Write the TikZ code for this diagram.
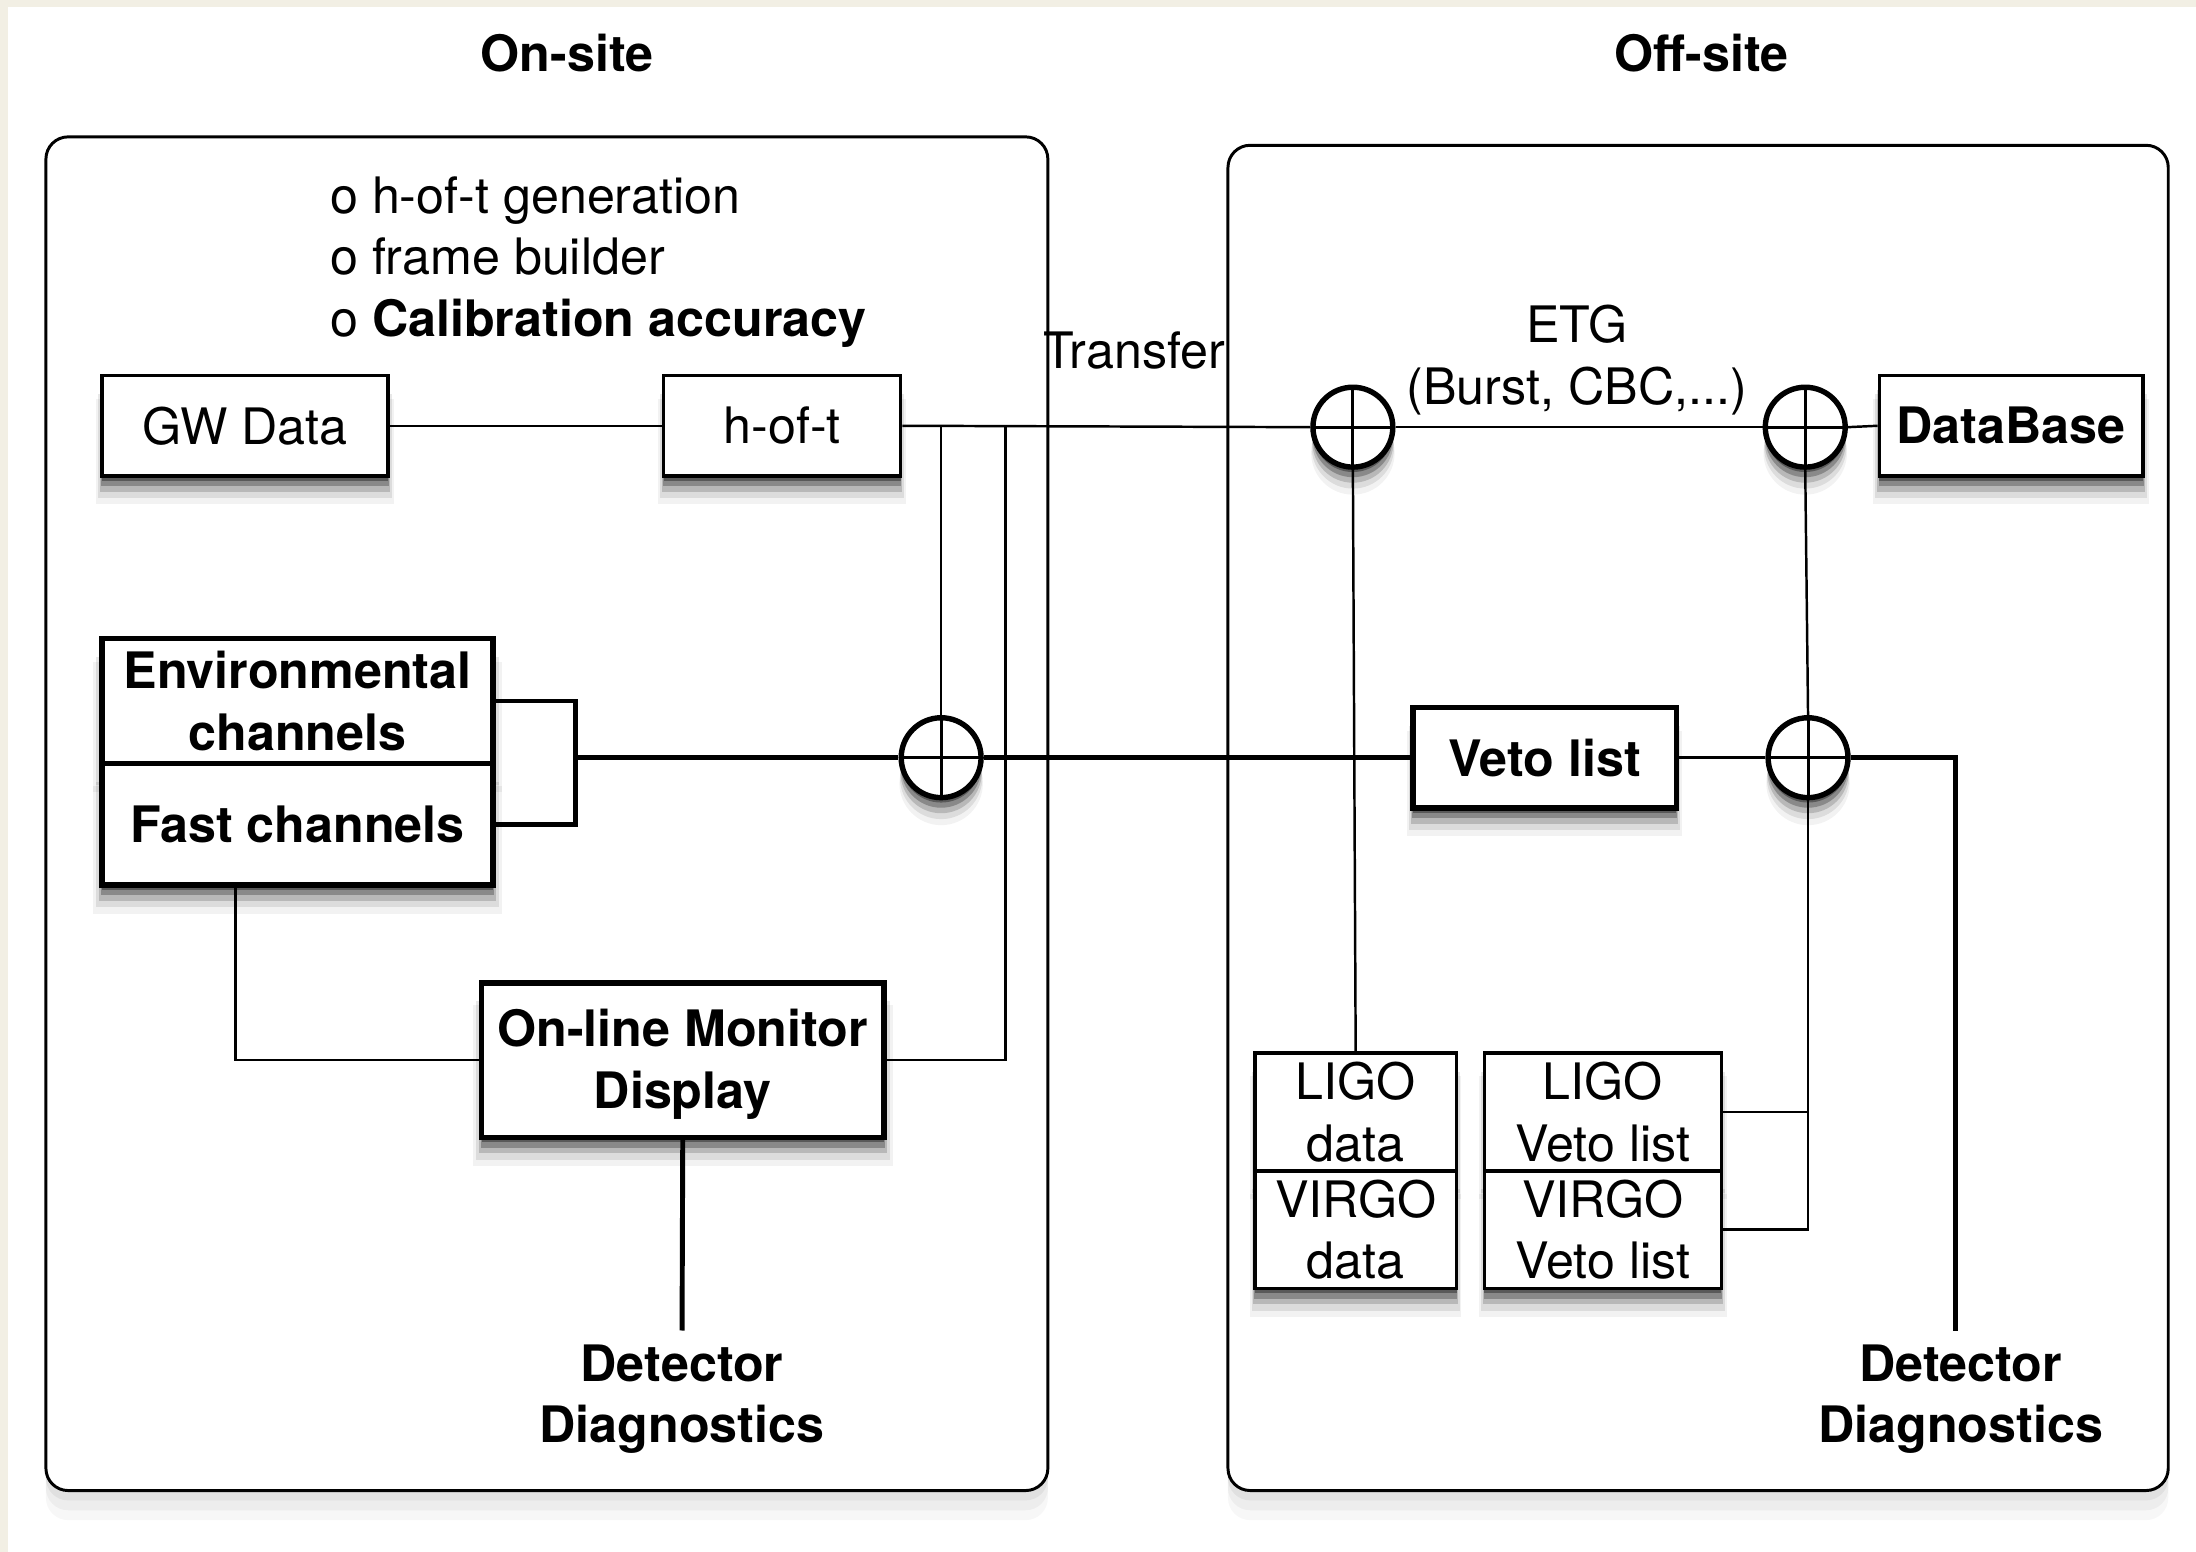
\documentclass[tikz,border=0pt]{standalone}
\usepackage{fontspec}
\setmainfont{TeX Gyre Heros}
\usetikzlibrary{shadows}
\definecolor{bgbeige}{HTML}{F2EFE4}
\begin{document}
\begin{tikzpicture}[x=0.01cm,y=-0.01cm,
  every node/.style={font=\fontsize{10.2}{12.5}\selectfont},
  sh/.style={drop shadow={shadow xshift=0pt,shadow yshift=-1pt,opacity=.35,fill=black},
             drop shadow={shadow xshift=0pt,shadow yshift=-2pt,opacity=.25,fill=black,shadow scale=1.005},
             drop shadow={shadow xshift=0pt,shadow yshift=-3pt,opacity=.16,fill=black,shadow scale=1.015},
             drop shadow={shadow xshift=0pt,shadow yshift=-4pt,opacity=.09,fill=black,shadow scale=1.03},
             drop shadow={shadow xshift=0pt,shadow yshift=-5pt,opacity=.05,fill=black,shadow scale=1.045}},
  psh/.style={drop shadow={shadow xshift=0pt,shadow yshift=-2pt,opacity=.05,fill=black},
             drop shadow={shadow xshift=0pt,shadow yshift=-4pt,opacity=.04,fill=black},
             drop shadow={shadow xshift=0pt,shadow yshift=-6pt,opacity=.03,fill=black}},
  panel/.style={draw, line width=0.6pt, rounded corners=4.5pt, fill=white, psh, inner sep=0pt},
  tbox/.style={draw, line width=0.7pt, fill=white, inner sep=0pt, sh, align=center},
  kbox/.style={draw, line width=1.1pt, fill=white, inner sep=0pt, sh, align=center,
               font=\fontsize{10.2}{12.5}\selectfont\bfseries},
  oplus/.style={circle, draw, line width=1.1pt, fill=white, minimum size=0.57cm, inner sep=0pt, sh,
     path picture={\draw[line width=0.6pt] (path picture bounding box.north) -- (path picture bounding box.south)
        (path picture bounding box.west) -- (path picture bounding box.east);}},
  lnthin/.style={line width=0.5pt},
  lnthick/.style={line width=1.0pt},
  lbl/.style={align=center, font=\fontsize{10.2}{12.5}\selectfont\bfseries}
]
\useasboundingbox (0,0) rectangle (1568,1108);
\fill[bgbeige] (0,0) rectangle (1568,1108);
\fill[white] (6,5) rectangle (1568,1108);

% panels
\node[panel, minimum width=7.15cm, minimum height=9.66cm] (lp) at (390.5,581) {};
\node[panel, minimum width=6.71cm, minimum height=9.60cm] (rp) at (1212.5,584) {};

% titles and texts
\node[lbl] (ton) at (405,38) {On-site};
\node[lbl] (toff) at (1215,38) {Off-site};
\node[anchor=west, align=left, inner sep=0pt] (lst) at (235,187)
  {o h-of-t generation\\o frame builder\\o \textbf{Calibration accuracy}};
\node[inner sep=0pt] (tr) at (810,250) {Transfer};
\node[align=center, inner sep=0pt] (etg) at (1126,257) {ETG\\(Burst, CBC,...)};

% boxes
\node[tbox, minimum width=2.04cm, minimum height=0.72cm] (gw) at (175,304) {GW Data};
\node[tbox, minimum width=1.69cm, minimum height=0.72cm] (hoft) at (558.5,304) {h-of-t};
\node[tbox, minimum width=1.88cm, minimum height=0.72cm, font=\fontsize{10.2}{12.5}\selectfont\bfseries] (db) at (1436,304) {DataBase};
\node[kbox, minimum width=2.79cm, minimum height=0.89cm] (env) at (212.5,500.5) {Environmental\\channels};
\node[kbox, minimum width=2.79cm, minimum height=0.87cm] (fast) at (212.5,588.5) {Fast channels};
\node[kbox, minimum width=2.87cm, minimum height=1.10cm] (olm) at (487.5,757) {};
\node[lbl, inner sep=0pt] (olmt) at (487.5,760) {On-line Monitor\\Display};
\node[kbox, minimum width=1.88cm, minimum height=0.72cm] (veto) at (1103,541) {Veto list};
\node[tbox, minimum width=1.44cm, minimum height=0.84cm] (ligd) at (968,794) {LIGO\\data};
\node[tbox, minimum width=1.44cm, minimum height=0.84cm] (vird) at (968,878) {VIRGO\\data};
\node[tbox, minimum width=1.69cm, minimum height=0.84cm] (ligv) at (1144.5,794) {LIGO\\Veto list};
\node[tbox, minimum width=1.69cm, minimum height=0.84cm] (virv) at (1144.5,878) {VIRGO\\Veto list};

% combiners
\node[oplus] (c1) at (966,305) {};
\node[oplus] (c2) at (1289,305) {};
\node[oplus] (c3) at (672,541) {};
\node[oplus] (c4) at (1291,541) {};

% diagnostics labels
\node[lbl, inner sep=0pt] (dg1) at (487,999) {Detector\\Diagnostics};
\node[lbl, inner sep=0pt] (dg2) at (1400,999) {Detector\\Diagnostics};

% coordinates
\coordinate (t1) at (672,305);
\coordinate (t2) at (718,305);
\coordinate (brk) at (411,541);
\coordinate (f1) at (168,632);
\coordinate (d1) at (487,950);
\coordinate (d2) at (1396,950);

% connectors
\draw[lnthin] (gw.east) -- (hoft.west);
\draw[lnthin] (hoft.east) -- (c1.west);
\draw[lnthin] (c1.east) -- (c2.west);
\draw[lnthin] (c2.east) -- (db.west);
\draw[lnthin] (t1) -- (c3.north);
\draw[lnthin] (t2) |- (olm.east);
\draw[lnthin] (c1.south) -- (ligd.north);
\draw[lnthin] (c2.south) -- (c4.north);
\draw[lnthin] (c4.south) |- (virv.east);
\draw[lnthin] (ligv.east) -- (c4.south |- ligv.east);
\draw[lnthin] (veto.east) -- (c4.west);
\draw[lnthin] (f1) |- (olm.west);
\draw[lnthick] (env.east) -| (brk) |- (fast.east);
\draw[lnthick] (brk) -- (c3.west);
\draw[lnthick] (c3.east) -- (veto.west);
\draw[lnthick] (c4.east) -| (d2);
\draw[lnthick] (olm.south) -- (d1);
\end{tikzpicture}
\end{document}
